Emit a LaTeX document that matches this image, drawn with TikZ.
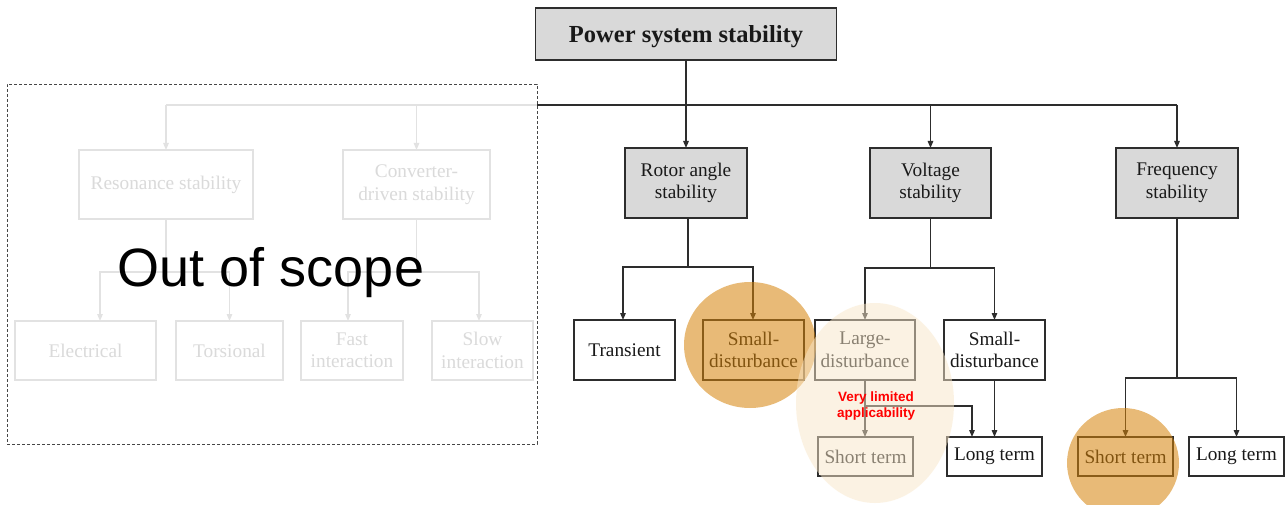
\documentclass[tikz,border=0pt]{standalone}
\usepackage{fontspec}
\setmainfont{Liberation Serif}
\newfontfamily\arialfont{Liberation Sans}
\usetikzlibrary{arrows.meta}
\definecolor{boxgray}{RGB}{217,217,217}
\definecolor{lineclr}{RGB}{45,45,45}
\definecolor{txtclr}{RGB}{25,25,25}
\definecolor{fadeln}{RGB}{226,226,226}
\definecolor{fadetx}{RGB}{218,218,218}
\definecolor{hlorange}{RGB}{214,131,9}
\definecolor{hlpale}{RGB}{249,231,201}
\definecolor{dashclr}{RGB}{70,70,70}
\tikzset{
  basebox/.style={line width=1.4pt, inner sep=2pt, outer sep=0pt, align=center,
    font=\fontsize{19.3}{22.5}\selectfont},
  gbox/.style={basebox, draw=lineclr, fill=boxgray, text=txtclr},
  wbox/.style={basebox, draw=lineclr, fill=white, text=txtclr},
  fbox/.style={basebox, draw=fadeln, line width=1.1pt, text=fadetx},
  conn/.style={draw=lineclr, line width=1.3pt},
  arr/.style={conn, -{Triangle[length=7pt,width=5.5pt]}},
  fconn/.style={draw=fadeln, line width=1.1pt},
  farr/.style={fconn, -{Triangle[length=7pt,width=5.5pt]}},
}
\begin{document}
\begin{tikzpicture}[x=1pt,y=-1pt]
\useasboundingbox (0,0) rectangle (1287,505);
\fill[white] (0,0) rectangle (1287,505);

% ---------- faded out-of-scope part ----------
\coordinate (busL) at (166,105);
\coordinate (busE) at (537,105);
\node[fbox, minimum width=174, minimum height=69] (res) at (166,184.5) {Resonance stability};
\node[fbox, minimum width=147, minimum height=69] (conv) at (416.5,184.5) {Converter-\\driven stability};
\node[fbox, minimum width=141, minimum height=59] (elec) at (85.5,350.5) {Electrical};
\node[fbox, minimum width=107, minimum height=59] (tors) at (229.5,350.5) {Torsional};
\node[fbox, minimum width=102, minimum height=59] (fast) at (352,350.5) {Fast\\interaction};
\node[fbox, minimum width=101, minimum height=59] (slow) at (482.5,350.5) {Slow\\interaction};
\draw[fconn] (busL) -- (busE);
\draw[farr] (busL) -- (res.north);
\draw[farr] (conv.north |- busL) -- (conv.north);
\draw[fconn] (res.south) -- ++(0,53) coordinate (resj);
\draw[farr] (resj) -| ([xshift=14.5pt]elec.north);
\draw[farr] (resj) -| (tors.north);
\draw[fconn] (conv.south) -- ++(0,53) coordinate (convj);
\draw[farr] (convj) -| ([xshift=-4pt]fast.north);
\draw[farr] (convj) -| ([xshift=-3.5pt]slow.north);

\node[draw=dashclr, dashed, dash pattern=on 3pt off 2pt, line width=0.8pt,
  minimum width=530, minimum height=360, inner sep=0pt] (scope) at (272,264) {};
\node[font=\arialfont\fontsize{54}{60}\selectfont, text=black, anchor=base] (oos) at (271,286) {Out of scope};

% ---------- main tree ----------
\node[gbox, minimum width=301, minimum height=52, text depth=0pt, font=\bfseries\fontsize{24.5}{28}\selectfont] (top) at (686,34) {Power system stability};
\node[gbox, minimum width=122, minimum height=70] (rotor) at (686,183) {Rotor angle\\stability};
\node[gbox, minimum width=121, minimum height=70] (volt) at (930.5,183) {Voltage\\stability};
\node[gbox, minimum width=122, minimum height=70] (freq) at (1177,183) {Frequency\\stability};

\coordinate (busR) at (1177,105);
\draw[conn] (busE) -- (busR);
\draw[arr] (top.south) -- (rotor.north);
\draw[arr] (volt.north |- busR) -- (volt.north);
\draw[arr] (busR) -- (freq.north);

\node[wbox, minimum width=101, minimum height=60] (trans) at (624.5,350) {Transient};
\node[wbox, minimum width=101, minimum height=60] (rsmall) at (753.5,350) {Small-\\disturbance};
\node[wbox, minimum width=100, minimum height=60] (large) at (865,350) {Large-\\disturbance};
\node[wbox, minimum width=101, minimum height=60] (vsmall) at (994.5,350) {Small-\\disturbance};
\node[wbox, minimum width=95, minimum height=39] (vshort) at (865.5,456.5) {Short term};
\node[wbox, minimum width=95, minimum height=39] (vlong) at (994.5,456.5) {Long term};
\node[wbox, minimum width=95, minimum height=39] (fshort) at (1125.5,456.5) {Short term};
\node[wbox, minimum width=95, minimum height=39] (flong) at (1236.5,456.5) {Long term};

\draw[conn] ([xshift=2pt]rotor.south) -- ++(0,49) coordinate (rj);
\draw[arr] (rj) -| ([xshift=-1.5pt]trans.north);
\draw[arr] (rj) -| ([xshift=-0.5pt]rsmall.north);
\draw[conn] (volt.south) -- ++(0,50) coordinate (vj);
\draw[arr] (vj) -| (large.north);
\draw[arr] (vj) -| (vsmall.north);
\draw[arr] (large.south) -- (vshort.north -| large.south);
\coordinate (lj) at (865,406);
\draw[arr] (lj) -| ([xshift=-22.5pt]vlong.north);
\draw[arr] (vsmall.south) -- (vlong.north);
\draw[conn] (freq.south) -- ++(0,160) coordinate (fj);
\draw[arr] (fj) -| (fshort.north);
\draw[arr] (fj) -| (flong.north);

% ---------- highlights ----------
\fill[hlorange, opacity=0.55] (750,345) ellipse [x radius=66, y radius=63];
\fill[hlpale, opacity=0.5] (875,403) ellipse [x radius=79, y radius=100];
\fill[hlorange, opacity=0.55] (1123,463) ellipse [x radius=56, y radius=55];

\node[font=\arialfont\bfseries\fontsize{13.5}{16.5}\selectfont, text=red, align=center, inner sep=0pt] (lim) at (876,406) {Very limited\\applicability};
\end{tikzpicture}
\end{document}
